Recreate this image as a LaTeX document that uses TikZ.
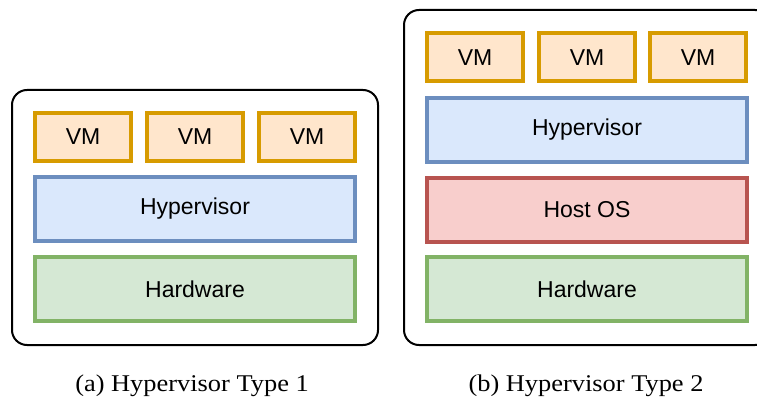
\documentclass[tikz,border=0pt]{standalone}
\usepackage{fontspec}
\setmainfont{Liberation Serif}
\setsansfont{Liberation Sans}
\newfontfamily\capfont[FakeStretch=1.1]{Liberation Serif}
\usetikzlibrary{shapes.geometric}
\definecolor{vmfill}{HTML}{FFE6CC}
\definecolor{vmline}{HTML}{D79B00}
\definecolor{hvfill}{HTML}{DAE8FC}
\definecolor{hvline}{HTML}{6C8EBF}
\definecolor{osfill}{HTML}{F8CECC}
\definecolor{osline}{HTML}{B85450}
\definecolor{hwfill}{HTML}{D5E8D4}
\definecolor{hwline}{HTML}{82B366}
\tikzstyle{host} = [rectangle, rounded corners=15pt, minimum width=366pt, draw=black, line width=2pt]
\tikzstyle{layer} = [rectangle, minimum width=320pt, minimum height=64pt, text centered, line width=4pt, font=\sffamily\fontsize{23}{26}\selectfont]
\tikzstyle{vm} = [layer, minimum width=96pt, minimum height=48pt, draw=vmline, fill=vmfill]
\tikzstyle{hyper} = [layer, draw=hvline, fill=hvfill]
\tikzstyle{hostos} = [layer, draw=osline, fill=osfill]
\tikzstyle{hardware} = [layer, draw=hwline, fill=hwfill]
\tikzstyle{caption} = [font=\capfont\fontsize{24}{28}\selectfont]

\begin{document}
\begin{tikzpicture}[x=1pt, y=-1pt]
\clip (0,0) rectangle (757,401);

% Containers
\node (hostA) [host, minimum height=255pt] at (195,217.5) {};
\node (hostB) [host, minimum height=335pt] at (587,177.5) {};

% Type 1
\node (vmA1) [vm] at (83,137) {VM};
\node (vmA2) [vm] at (195,137) {VM};
\node (vmA3) [vm] at (307,137) {VM};
\node (hypA) [hyper] at (195,209) {Hypervisor};
\node (hwA) [hardware] at (195,289) {Hardware};

% Type 2
\node (vmB1) [vm] at (475,57.5) {VM};
\node (vmB2) [vm] at (587,57.5) {VM};
\node (vmB3) [vm] at (698,57.5) {VM};
\node (hypB) [hyper] at (587,130) {Hypervisor};
\node (osB) [hostos] at (587,210) {Host OS};
\node (hwB) [hardware] at (587,289) {Hardware};

% Captions
\node (capA) [caption] at (192,386) {(a) Hypervisor Type 1};
\node (capB) [caption] at (586,386) {(b) Hypervisor Type 2};

\end{tikzpicture}
\end{document}
